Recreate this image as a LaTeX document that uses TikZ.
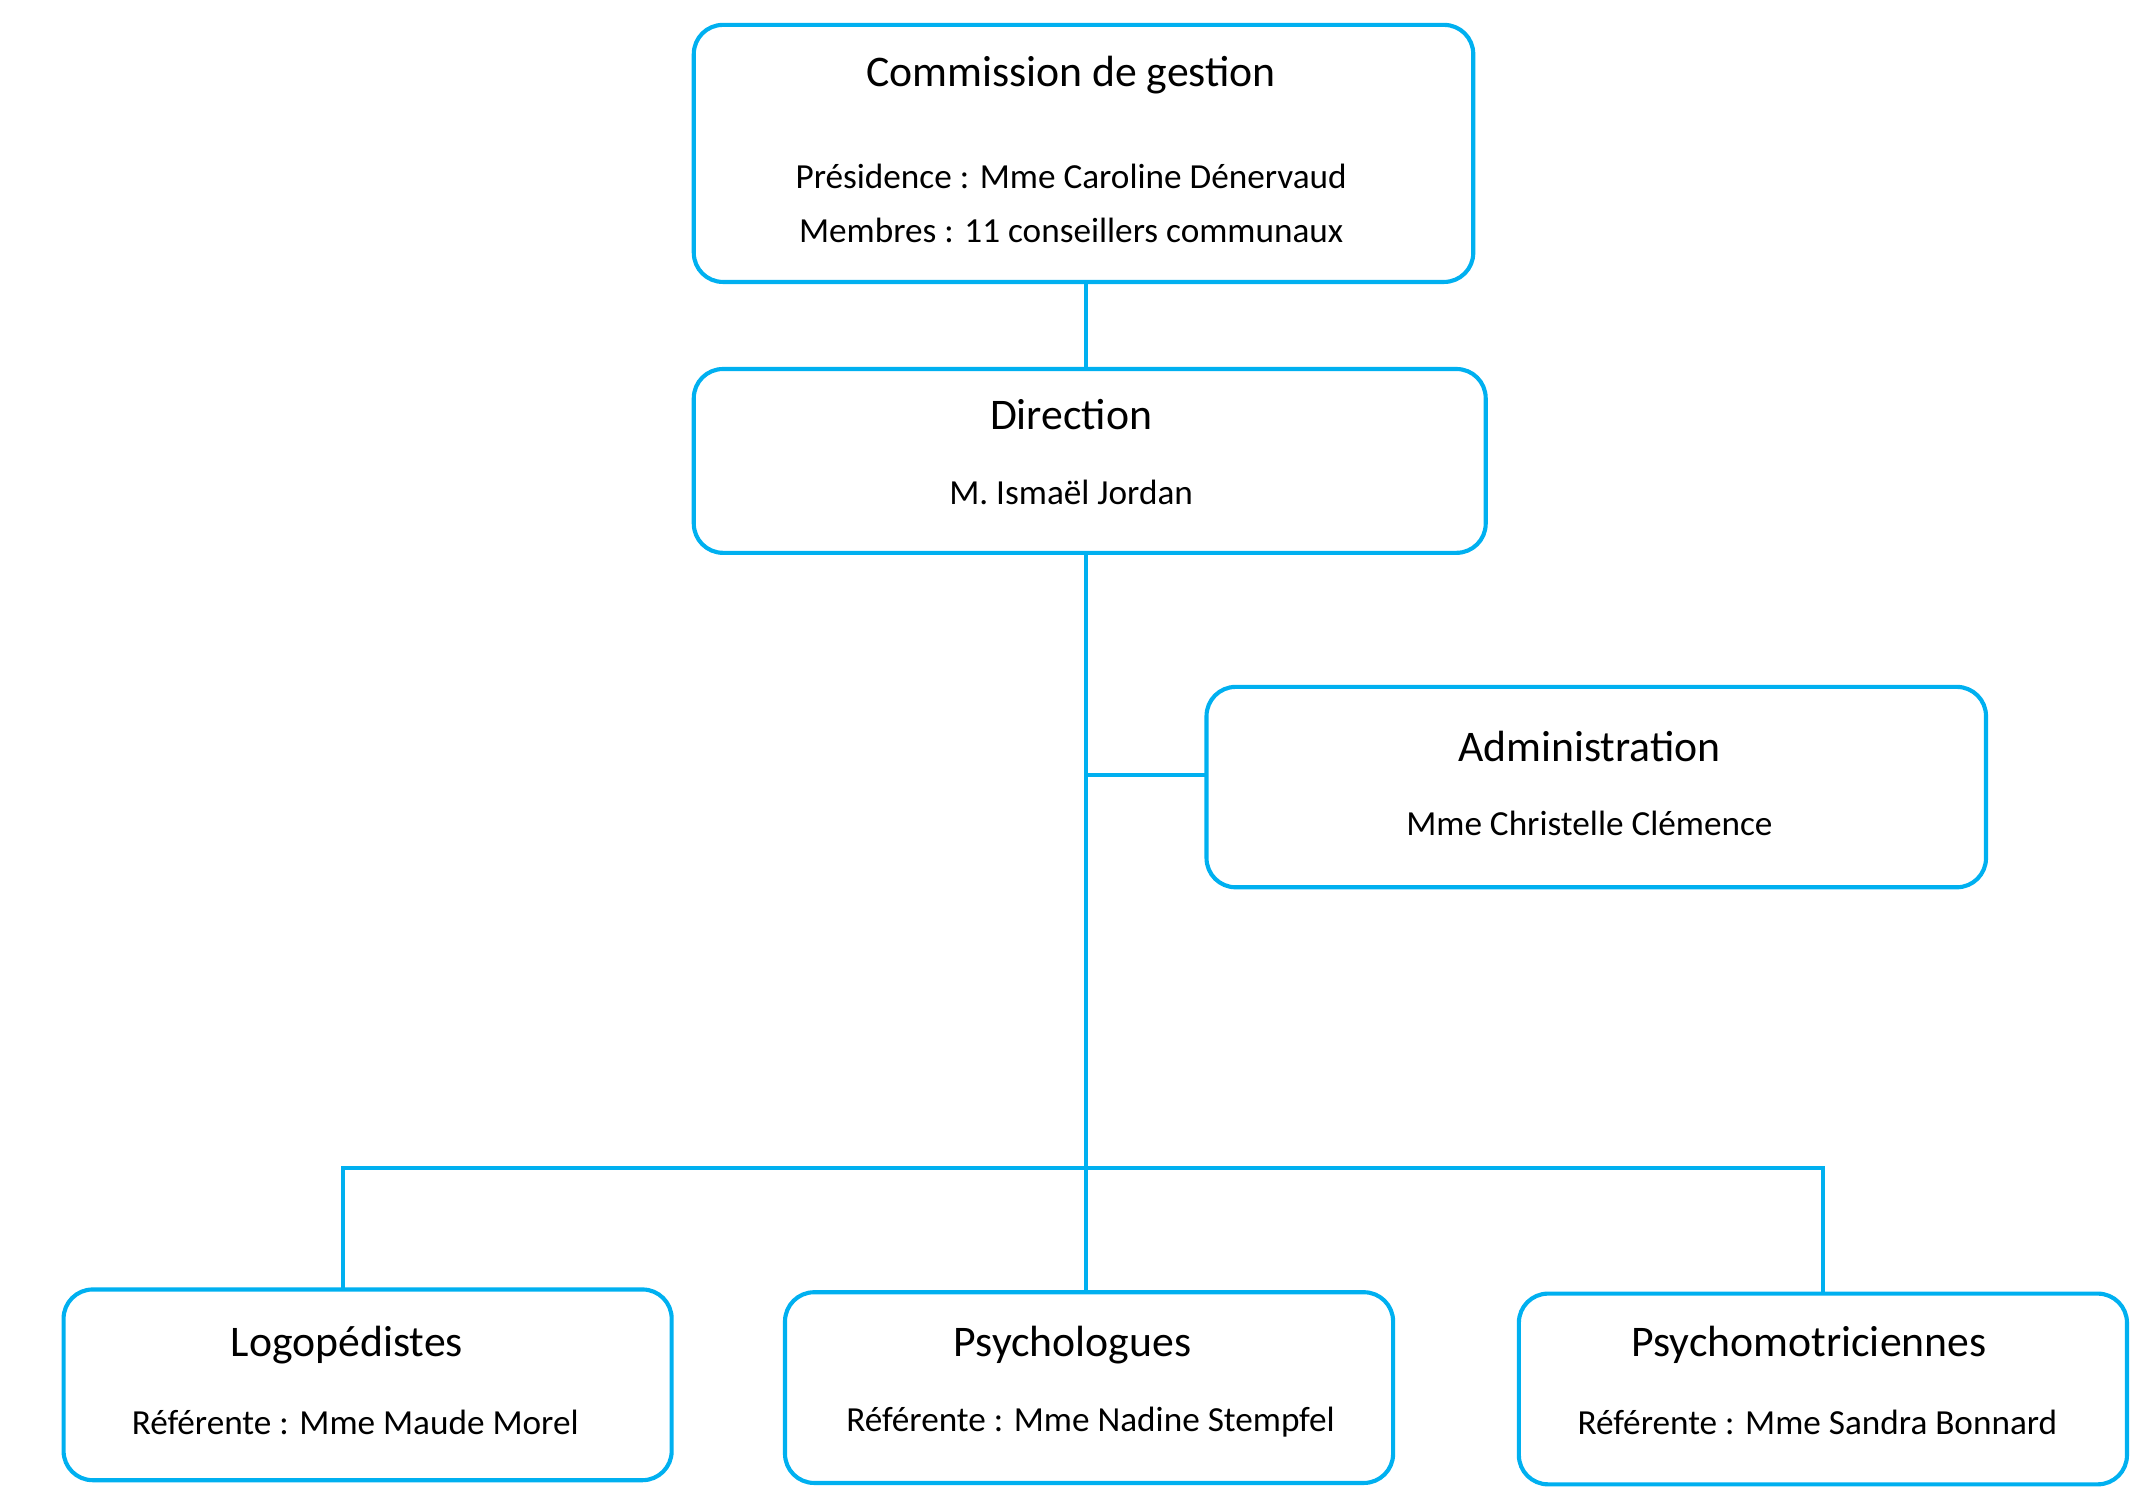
\documentclass[tikz,border=0pt]{standalone}
\usepackage{fontspec}
\setmainfont{Carlito}
\usepackage{xcolor}
\definecolor{orgblue}{RGB}{0,176,240}
\begin{document}
\begin{tikzpicture}[x=0.02cm, y=-0.02cm,
    box/.style={draw=orgblue, line width=1.7pt, rounded corners=12pt},
    title/.style={font=\fontsize{18}{20}\selectfont},
    info/.style={font=\fontsize{14.5}{16}\selectfont},
    link/.style={draw=orgblue, line width=1.7pt}]
    \useasboundingbox (0,0) rectangle (1560,1086);

    % Commission de gestion
    \draw[box] (502,18) rectangle (1066,204);
    \coordinate (comm) at (786,204);
    \node[title] (commT) at (775,54) {Commission de gestion};
    \node[info] (commP) at (775,128) {Présidence : Mme Caroline Dénervaud};
    \node[info] (commM) at (775,167) {Membres : 11 conseillers communaux};

    % Direction
    \draw[box] (502,267) rectangle (1075,400);
    \coordinate (dirN) at (786,267);
    \coordinate (dirS) at (786,400);
    \node[title] (dirT) at (775,300) {Direction};
    \node[info] (dirP) at (775,356) {M. Ismaël Jordan};

    % Administration
    \draw[box] (873,497) rectangle (1437,642);
    \coordinate (admW) at (873,561);
    \node[title] (admT) at (1150,540) {Administration};
    \node[info] (admP) at (1150,596) {Mme Christelle Clémence};

    % Equipes
    \draw[box] (46,933) rectangle (486,1071);
    \node[title] (logT) at (251,973) {Logopédistes};
    \node[info] (logP) at (257,1029) {Référente : Mme Maude Morel};

    \draw[box] (568,935) rectangle (1008,1073);
    \node[title] (psyT) at (776,973) {Psychologues};
    \node[info] (psyP) at (789,1029) {Référente : Mme Nadine Stempfel};

    \draw[box] (1099,936) rectangle (1539,1074);
    \node[title] (motT) at (1309,973) {Psychomotriciennes};
    \node[info] (motP) at (1315,1029) {Référente : Mme Sandra Bonnard};

    % Connections
    \coordinate (admJ) at (786,561);
    \coordinate (bus) at (786,845);
    \coordinate (logN) at (248,933);
    \coordinate (psyN) at (786,935);
    \coordinate (motN) at (1319,936);
    \draw[link] (comm) -- (dirN);
    \draw[link] (dirS) -- (psyN);
    \draw[link] (admJ) -- (admW);
    \draw[link] (logN) |- (bus) -| (motN);
\end{tikzpicture}
\end{document}
